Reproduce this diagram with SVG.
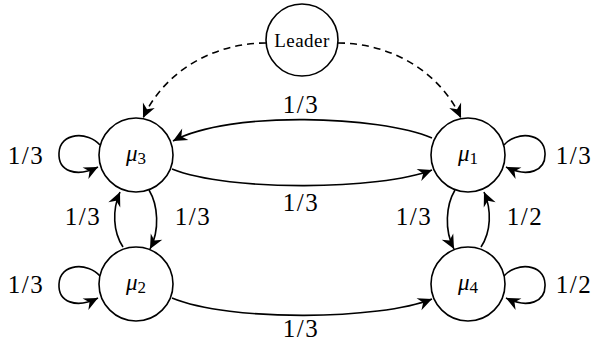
<svg xmlns="http://www.w3.org/2000/svg" width="594" height="351" viewBox="0 0 594 351">
<style>
.node{fill:#fff;stroke:#000;stroke-width:1.6}
.edge{fill:none;stroke:#000;stroke-width:1.6}
.dash{stroke-dasharray:7,5}
.lbl{font-family:"Liberation Serif",serif;font-size:25px;letter-spacing:1.5px;fill:#000;text-anchor:middle}
.mu{font-family:"Liberation Serif",serif;font-size:23px;fill:#000;text-anchor:middle}
.ldr{font-family:"Liberation Serif",serif;font-size:19px;letter-spacing:0.5px;fill:#000;text-anchor:middle}
</style>
<defs>
<marker id="ah" markerUnits="userSpaceOnUse" markerWidth="16" markerHeight="14" refX="14" refY="6.5" orient="auto" overflow="visible">
<path d="M14,6.5 L0,0 L4.5,6.5 L0,13 Z" fill="#000"/>
</marker>
</defs>
<g id="connectors">
<path class="edge dash" d="M266,43 C215,43 165,70 143,118" marker-end="url(#ah)"/>
<path class="edge dash" d="M338,43 C389,43 439,70 461,118" marker-end="url(#ah)"/>
<path class="edge" d="M432,138 C380,116 230,110 173,141" marker-end="url(#ah)"/>
<path class="edge" d="M172,169 C230,192 380,190 432,170" marker-end="url(#ah)"/>
<path class="edge" d="M172,298 C230,322 380,320 432,299" marker-end="url(#ah)"/>
<path class="edge" d="M100,145 C88,131 60,132 59,153 C58,171 76,178 98,167" marker-end="url(#ah)"/>
<path class="edge" d="M100,276 C88,262 60,263 59,284 C58,302 76,309 98,298" marker-end="url(#ah)"/>
<path class="edge" d="M504,145 C516,131 544,132 545,153 C546,171 528,178 506,167" marker-end="url(#ah)"/>
<path class="edge" d="M504,276 C516,262 544,263 545,284 C546,302 528,309 506,298" marker-end="url(#ah)"/>
<path class="edge" d="M149,190 C158,205 160,230 150,249" marker-end="url(#ah)"/>
<path class="edge" d="M123,247 C113,232 112,210 120,192" marker-end="url(#ah)"/>
<path class="edge" d="M455,190 C446,205 444,230 454,249" marker-end="url(#ah)"/>
<path class="edge" d="M481,247 C491,232 492,210 484,192" marker-end="url(#ah)"/>
</g>
<g id="n-leader"><circle class="node" cx="302" cy="40" r="36"/><text class="ldr" x="302" y="47">Leader</text></g>
<g id="n-mu3"><circle class="node" cx="136" cy="155" r="37"/><text class="mu" x="136" y="161"><tspan font-style="italic">μ</tspan><tspan font-size="17" dy="3">3</tspan></text></g>
<g id="n-mu1"><circle class="node" cx="468" cy="155" r="37"/><text class="mu" x="468" y="161"><tspan font-style="italic">μ</tspan><tspan font-size="17" dy="3">1</tspan></text></g>
<g id="n-mu2"><circle class="node" cx="136" cy="284" r="37"/><text class="mu" x="136" y="290"><tspan font-style="italic">μ</tspan><tspan font-size="17" dy="3">2</tspan></text></g>
<g id="n-mu4"><circle class="node" cx="468" cy="284" r="37"/><text class="mu" x="468" y="290"><tspan font-style="italic">μ</tspan><tspan font-size="17" dy="3">4</tspan></text></g>
<g id="labels">
<text class="lbl" x="301" y="113">1/3</text>
<text class="lbl" x="301" y="211">1/3</text>
<text class="lbl" x="301" y="337">1/3</text>
<text class="lbl" x="26" y="164">1/3</text>
<text class="lbl" x="26" y="293">1/3</text>
<text class="lbl" x="574" y="164">1/3</text>
<text class="lbl" x="574" y="293">1/2</text>
<text class="lbl" x="83" y="225">1/3</text>
<text class="lbl" x="193" y="225">1/3</text>
<text class="lbl" x="414" y="225">1/3</text>
<text class="lbl" x="525" y="225">1/2</text>
</g>
</svg>
